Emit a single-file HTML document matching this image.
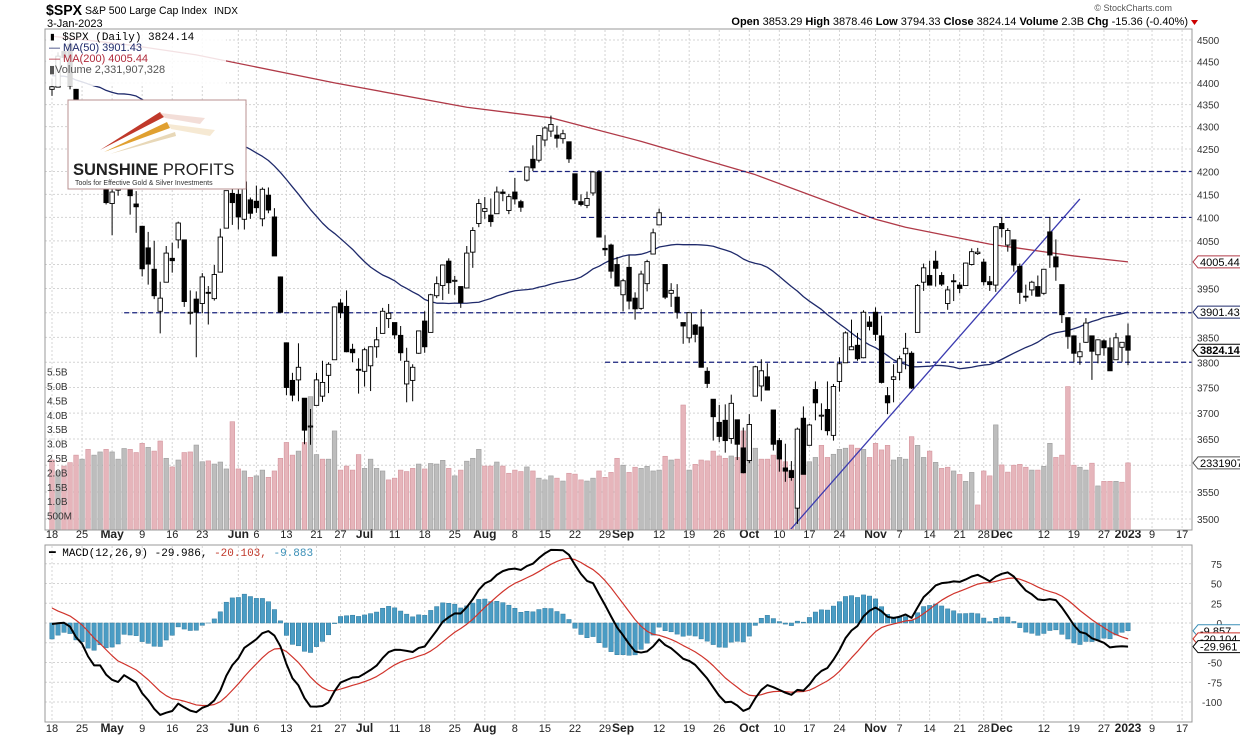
<!DOCTYPE html>
<html><head><meta charset="utf-8"><style>
body{margin:0;background:#fff;}
svg{display:block;font-family:"Liberation Sans",Arial,sans-serif;}
</style></head><body>
<svg id="chart" width="1240" height="737" viewBox="0 0 1240 737" xmlns="http://www.w3.org/2000/svg">
<rect width="1240" height="737" fill="#fff"/>
<g>
<text x="46" y="15" font-size="15" font-weight="bold" fill="#000" textLength="36" lengthAdjust="spacingAndGlyphs">$SPX</text>
<text x="85" y="14" font-size="11" fill="#000" textLength="122" lengthAdjust="spacingAndGlyphs">S&amp;P 500 Large Cap Index</text>
<text x="214" y="14" font-size="10" fill="#000">INDX</text>
<text x="47" y="27" font-size="11" fill="#000">3-Jan-2023</text>
<text x="1172" y="11" font-size="9" fill="#555" text-anchor="end">© StockCharts.com</text>
<text x="1188" y="25" font-size="11" fill="#000" text-anchor="end"><tspan font-weight="bold">Open</tspan> 3853.29 <tspan font-weight="bold">High</tspan> 3878.46 <tspan font-weight="bold">Low</tspan> 3794.33 <tspan font-weight="bold">Close</tspan> 3824.14 <tspan font-weight="bold">Volume</tspan> 2.3B <tspan font-weight="bold">Chg</tspan> -15.36 (-0.40%)</text>
<path d="M1191 20 L1198 20 L1194.5 25 Z" fill="#c00"/>
</g>
<g id="grid"></g>
<g id="vol"></g>
<g id="lines"></g>
<g id="candles"></g>
<g id="macd"></g>
<g id="axes"></g>
<rect x="45" y="29" width="1147" height="501" fill="none" stroke="#999"/>
<rect x="45" y="545" width="1147" height="177" fill="none" stroke="#999"/>
<g font-size="11">
<rect x="46" y="30" width="180" height="56" fill="#fff" opacity="0.85"/>
<text x="49" y="40" fill="#000" font-family="Liberation Mono, monospace" font-size="11">▮ $SPX (Daily) 3824.14</text>
<text x="49" y="51" fill="#1f2a6b">— MA(50) 3901.43</text>
<text x="49" y="62" fill="#b02a3a">— MA(200) 4005.44</text>
<text x="49" y="73" fill="#555">▮Volume 2,331,907,328</text>
</g>
<g>
<rect x="68" y="100" width="178" height="89" fill="#fff" stroke="#b89090" stroke-width="1"/>
<polygon points="100,150 160,112 164,117" fill="#c0392b"/>
<polygon points="104,152 167,122 170,128" fill="#e0a030"/>
<polygon points="110,154 175,132 176,136" fill="#e8d8b8"/>
<polygon points="160,113 205,118 200,124 165,118" fill="#eed0c8" opacity="0.7"/>
<polygon points="168,124 215,130 210,136 171,129" fill="#f2e0c0" opacity="0.7"/>
<text x="73" y="175" font-size="16.5" font-weight="bold" fill="#222">SUNSHINE <tspan font-weight="normal">PROFITS</tspan></text>
<text x="75" y="185" font-size="7" fill="#333">Tools for Effective Gold &amp; Silver Investments</text>
</g>
<text x="49" y="556" font-size="11" font-family="Liberation Mono, monospace"><tspan fill="#000">━ MACD(12,26,9) -29.986, </tspan><tspan fill="#c0392b">-20.103, </tspan><tspan fill="#3a8fb7">-9.883</tspan></text>
</svg>
<script>
// ---------- DATA ----------
const warmupCloses=[4546,4589,4477,4500,4484,4521,4587,4504,4418,4401,4472,4475,4380,4349,4304,4225,4288,4385,4374,4306,4387,4363,4329,4201,4171,4278,4260,4204,4173,4262,4358,4412,4463,4461,4512,4457,4520,4543,4575,4632,4602,4530,4546,4583,4525,4481,4500,4488,4413,4397,4447,4392];
const opens=[4385,4390,4473,4490,4385,4255,4278,4187,4222,4253,
4130,4159,4182,4270,4129,4081,4035,3990,3903,3963,4013,4052,4052,3900,3928,3919,3942,3929,3984,4077,4152,
4150,4096,4138,4135,4097,4148,4101,3974,3839,3764,3765,3729,3675,3715,3733,3774,3805,3920,3913,3826,3786,
3782,3793,3831,3858,3888,3880,3854,3757,3764,3818,3883,3860,3935,3956,4007,3966,3954,3951,4026,4087,
4113,4105,4108,4155,4115,4155,4134,4181,4227,4225,4270,4290,4281,4273,4266,4195,4134,4126,4153,4198,4034,4041,4000,
3937,3994,3930,3909,3960,4022,4084,4000,3940,3932,3880,3849,3875,3871,3782,3727,3682,3686,3651,3687,3633,
3609,3733,3753,3771,3706,3647,3595,3590,3520,3690,3638,3746,3696,3707,3657,3762,3799,3825,3834,3809,3881,
3901,3853,3734,3766,3780,3817,3818,3860,3963,3977,4007,3977,3919,3966,3957,3956,4000,4023,4005,3964,3957,
4087,4041,4052,3996,3934,3947,3954,3940,4069,4016,3958,3890,3853,3811,3840,3853,3815,3843,3829,3805,3830,
3853];
const highs=[4410,4471,4489,4512,4386,4300,4278,4240,4308,4269,
4169,4200,4308,4270,4157,4082,4069,4050,3964,4039,4046,4091,4052,3946,3944,3982,3955,3999,4076,4158,4169,
4167,4177,4143,4169,4165,4165,4120,3975,3839,3779,3838,3729,3708,3779,3803,3800,3913,3928,3946,3837,3808,
3829,3832,3871,3910,3918,3880,3873,3829,3796,3863,3903,3939,3975,3999,4013,3976,3954,4039,4079,4140,
4144,4141,4167,4161,4151,4186,4138,4211,4258,4281,4301,4325,4302,4293,4266,4195,4150,4156,4201,4203,4062,4044,4016,
3970,4019,3942,3987,4010,4076,4119,4000,3961,3959,3880,3900,3877,3907,3790,3727,3716,3717,3736,3687,3672,
3698,3793,3806,3798,3706,3652,3641,3608,3672,3713,3679,3762,3719,3762,3757,3810,3862,3886,3859,3905,3893,
3911,3894,3751,3796,3813,3859,3822,3959,4002,4008,4029,3984,3955,3980,3963,4004,4034,4035,4012,3976,4080,
4101,4077,4052,4002,3958,3966,3977,3991,4101,4053,3958,3890,3854,3839,3889,3853,3846,3846,3849,3859,3840,
3878];
const lows=[4370,4390,4452,4385,4268,4200,4175,4162,4188,4128,
4062,4147,4175,4106,4067,3975,3958,3928,3858,3963,3983,4034,3912,3876,3810,3899,3876,3925,3984,4077,4084,
4074,4074,4097,4110,4081,4109,4018,3900,3735,3723,3723,3640,3639,3715,3722,3739,3805,3889,3820,3800,3738,
3752,3743,3809,3858,3869,3847,3803,3721,3723,3817,3819,3860,3930,3926,3939,3937,3910,3951,3993,4079,
4097,4080,4108,4135,4107,4128,4112,4178,4201,4220,4256,4277,4253,4262,4219,4129,4124,4120,4147,4057,4018,3971,3954,
3903,3907,3886,3906,3944,4022,4083,3928,3912,3888,3837,3839,3840,3790,3749,3647,3644,3624,3641,3610,3585,
3604,3733,3723,3745,3628,3588,3569,3571,3491,3583,3638,3686,3667,3657,3647,3742,3799,3825,3803,3808,3864,
3843,3758,3698,3721,3764,3786,3747,3860,3945,3956,3954,3955,3906,3924,3940,3956,3998,4020,3956,3945,3943,
4057,4027,3985,3918,3923,3935,3933,3937,3993,3966,3879,3827,3800,3795,3839,3765,3798,3813,3783,3805,3801,
3794];
const closes=[4391,4462,4459,4393,4272,4296,4175,4183,4287,4132,
4155,4175,4300,4147,4123,3991,4001,3935,3930,4024,4008,4088,3923,3901,3901,3974,3941,3979,4058,4158,4132,
4101,4177,4109,4121,4161,4116,4018,3901,3750,3735,3790,3667,3675,3765,3760,3796,3912,3900,3821,3819,3785,
3825,3831,3845,3903,3899,3855,3819,3802,3790,3863,3831,3937,3960,3999,3962,3967,3921,4024,4072,4130,
4119,4091,4155,4152,4145,4140,4122,4210,4208,4280,4297,4305,4274,4284,4228,4138,4128,4141,4199,4058,4031,3986,3955,
3966,3924,3908,3980,4006,4067,4110,3932,3946,3901,3873,3900,3856,3790,3758,3693,3655,3647,3719,3640,3586,
3678,3791,3783,3745,3640,3612,3589,3577,3669,3583,3677,3720,3696,3666,3752,3797,3859,3831,3807,3901,3872,
3856,3760,3720,3771,3807,3828,3749,3956,3993,3957,3992,3959,3947,3965,3950,4003,4027,4026,3964,3958,4080,
4076,4072,3999,3942,3933,3963,3934,3990,4020,3995,3896,3852,3818,3821,3879,3822,3845,3829,3783,3849,3840,
3824.14];
const volumesB=[2.43,2.03,2.22,2.34,2.6,2.46,2.8,2.6,2.71,2.8,2.71,2.46,2.83,2.8,2.69,3.01,2.87,2.74,3.09,2.49,2.19,2.43,2.69,2.71,2.95,2.37,2.4,2.29,2.36,2.12,
3.76,2.12,2.05,1.83,1.88,2.08,1.83,2.05,2.49,3.04,2.6,2.74,3.04,4.63,2.62,2.46,2.46,3.44,2.08,2.22,2.08,2.62,2.14,2.46,2.14,2.05,1.74,1.80,2.08,2.03,
2.14,2.29,2.12,2.31,2.29,2.42,2.14,1.88,2.08,2.39,2.49,2.8,2.22,2.22,2.36,2.22,1.97,2.08,2.03,2.19,2.05,1.80,1.74,1.88,1.80,1.70,1.97,1.94,1.74,1.70,
1.80,2.05,1.83,2.0,2.49,2.25,2.0,2.18,2.14,2.21,2.05,2.08,2.56,2.43,2.46,4.34,2.08,2.28,2.43,2.4,2.74,2.57,2.49,2.57,2.52,3.44,2.74,2.84,2.46,2.46,2.6,
2.72,2.37,2.08,2.52,2.6,2.37,2.52,2.94,2.52,2.63,2.8,2.84,2.95,2.84,2.8,2.52,3.01,2.78,2.94,2.43,2.52,2.46,3.24,2.94,2.52,2.74,2.35,2.14,2.18,2.05,
1.93,1.69,2.0,0.87,2.05,1.88,3.65,2.26,2.01,2.25,2.28,2.18,2.08,2.08,2.21,3.01,2.52,2.6,4.98,2.25,2.18,2.08,2.32,1.53,1.69,1.69,1.69,1.66,2.33];
const ma200Idx=[0,13,24,47,69,83,98,117,137,142,156,166,170,179];
const ma200Vals=[4509,4488,4465,4400,4344,4320,4267,4193,4096,4079,4043,4025,4018,4005.44];
const priceTicks=[3500,3550,3600,3650,3700,3750,3800,3850,3900,3950,4000,4050,4100,4150,4200,4250,4300,4350,4400,4450,4500];
const volTicks=[0.5,1,1.5,2,2.5,3,3.5,4,4.5,5,5.5];
const volTickLabels=["500M","1.0B","1.5B","2.0B","2.5B","3.0B","3.5B","4.0B","4.5B","5.0B","5.5B"];
const macdTicks=[75,50,25,0,-25,-50,-75,-100];
const dateLabels=[["2022-04-18","18"],["2022-04-25","25"],["2022-05-02","May"],["2022-05-09","9"],["2022-05-16","16"],["2022-05-23","23"],["2022-06-01","Jun"],["2022-06-06","6"],["2022-06-13","13"],["2022-06-21","21"],["2022-06-27","27"],["2022-07-01","Jul"],["2022-07-11","11"],["2022-07-18","18"],["2022-07-25","25"],["2022-08-01","Aug"],["2022-08-08","8"],["2022-08-15","15"],["2022-08-22","22"],["2022-08-29","29"],["2022-09-01","Sep"],["2022-09-12","12"],["2022-09-19","19"],["2022-09-26","26"],["2022-10-03","Oct"],["2022-10-10","10"],["2022-10-17","17"],["2022-10-24","24"],["2022-11-01","Nov"],["2022-11-07","7"],["2022-11-14","14"],["2022-11-21","21"],["2022-11-28","28"],["2022-12-01","Dec"],["2022-12-12","12"],["2022-12-19","19"],["2022-12-27","27"],["2023-01-03","2023"],["2023-01-09","9"],["2023-01-17","17"]];
const holidays=["2022-05-30","2022-06-20","2022-07-04","2022-09-05","2022-11-24","2022-12-26","2023-01-02","2023-01-16"];
const hLevels=[4200,4100,3900,3800];
const hStartIdx=[76,88,12,92];
const trendIdx=[122,171];
const trendVals=[3470,4140];

// ---------- SCALES ----------
const NS="http://www.w3.org/2000/svg";
const X0=52, DX=(1128-52)/179, LEFT=45, RIGHT=1192;
const x=i=>X0+i*DX;
const yP=v=>40+1906*Math.log(4500/v);
const yV=b=>530-b*28.8;
const yM=m=>623-m*0.79;
function mk(tag,attrs,parent){const e=document.createElementNS(NS,tag);for(const k in attrs)e.setAttribute(k,attrs[k]);parent.appendChild(e);return e;}
const G=id=>document.getElementById(id);

const tradingDates=[];
{let d=new Date(Date.UTC(2022,3,18));while(tradingDates.length<190){const s=d.toISOString().slice(0,10);const wd=d.getUTCDay();if(wd!==0&&wd!==6&&!holidays.includes(s))tradingDates.push(s);d.setUTCDate(d.getUTCDate()+1);}}

// ---------- GRID ----------
const grid=G('grid');
priceTicks.forEach(v=>{const g=mk('line',{x1:LEFT,x2:RIGHT,y1:yP(v),y2:yP(v),stroke:'#d4d4d4','stroke-dasharray':'2,2'},grid);

});
macdTicks.forEach(v=>{const g=mk('line',{x1:LEFT,x2:RIGHT,y1:yM(v),y2:yM(v),stroke:'#d4d4d4','stroke-dasharray':'2,2'},grid);

});
const axes=G('axes');
dateLabels.forEach(([d,lab])=>{const i=tradingDates.indexOf(d);const xx=x(i);
const g=mk('line',{x1:xx,x2:xx,y1:30,y2:529,stroke:'#d4d4d4','stroke-dasharray':'2,2'},grid);


const g2=mk('line',{x1:xx,x2:xx,y1:546,y2:721,stroke:'#d4d4d4','stroke-dasharray':'2,2'},grid);


const bold=/[A-Za-z]|2023/.test(lab);
[539,733].forEach(yy=>{const t=mk('text',{x:xx,y:yy-1,'font-size':bold?12:11,'font-weight':bold?'bold':'normal','text-anchor':'middle',fill:'#222'},axes);t.textContent=lab;

});});
priceTicks.forEach(v=>{const t=mk('text',{x:1197,y:yP(v)+4,'font-size':10,fill:'#333'},axes);t.textContent=v;

});
volTicks.forEach((b,k)=>{const t=mk('text',{x:47,y:yV(b)+4,'font-size':10,fill:'#333'},axes);t.textContent=volTickLabels[k];

});
macdTicks.forEach(v=>{const t=mk('text',{x:1222,y:yM(v)+4,'font-size':10,fill:'#333','text-anchor':'end'},axes);t.textContent=v;

});

// ---------- VOLUME ----------
const vol=G('vol');
volumesB.forEach((b,i)=>{const prev=i===0?warmupCloses[warmupCloses.length-1]:closes[i-1];const down=closes[i]<prev;
const r=mk('rect',{x:x(i)-2.3,y:yV(b),width:4.6,height:530-yV(b),fill:down?'#e6b5bb':'#bdbdbd',stroke:down?'#d4959d':'#9c9c9c','stroke-width':0.6},vol);

});

// ---------- LINES ----------
const lines=G('lines');
const all=warmupCloses.concat(closes);const W=warmupCloses.length;
let ma50=[];for(let i=0;i<closes.length;i++){const j=W+i;let s=0;for(let k=j-49;k<=j;k++)s+=all[k];ma50.push(s/50);}
const pl=(pts,col,w,name,parent)=>{const p=mk('polyline',{points:pts.map(p=>p.join(',')).join(' '),fill:'none',stroke:col,'stroke-width':w,'stroke-linejoin':'round'},parent);return p;};
const cp=mk('clipPath',{id:'pc'},lines);mk('rect',{x:LEFT,y:30,width:RIGHT-LEFT,height:499},cp);
const lg=mk('g',{'clip-path':'url(#pc)'},lines);
pl(ma200Idx.map((i,k)=>[x(i),yP(ma200Vals[k])]),'#b03a48',1.3,'ma200-line',lg);
pl(ma50.map((v,i)=>[x(i),yP(v)]),'#1f2a6b',1.3,'ma50-line',lg);
hLevels.forEach((v,k)=>{const l=mk('line',{x1:x(hStartIdx[k]),x2:RIGHT,y1:yP(v),y2:yP(v),stroke:'#1a237e','stroke-width':1.2,'stroke-dasharray':'5,3'},lg);

});
const tl=mk('line',{x1:x(trendIdx[0]),y1:yP(trendVals[0]),x2:x(trendIdx[1]),y2:yP(trendVals[1]),stroke:'#3b3bb0','stroke-width':1.3},lg);



// ---------- CANDLES ----------
const cg=G('candles');
closes.forEach((c,i)=>{const o=opens[i];const xx=x(i);
const w=mk('line',{x1:xx,x2:xx,y1:yP(highs[i]),y2:yP(lows[i]),stroke:'#000','stroke-width':1},cg);


const top=yP(Math.max(o,c)),bot=yP(Math.min(o,c));
const b=mk('rect',{x:xx-2.2,y:top,width:4.4,height:Math.max(1,bot-top),fill:c>=o?'#fff':'#000',stroke:'#000','stroke-width':0.9},cg);

});

// ---------- MACD ----------
const mg=G('macd');
const ema=(arr,n)=>{const k=2/(n+1);let e=arr[0];return arr.map(v=>(e=v*k+e*(1-k)));};
const e12=ema(all,12),e26=ema(all,26);const macdAll=all.map((v,i)=>e12[i]-e26[i]);const sigAll=ema(macdAll,9);
const macd=macdAll.slice(W),sig=sigAll.slice(W);
macd.forEach((m,i)=>{const h=m-sig[i];const y0=yM(0),y1=yM(h);
const r=mk('rect',{x:x(i)-2.2,y:Math.min(y0,y1),width:4.4,height:Math.abs(y1-y0),fill:'#4a9cc4',stroke:'#2f7a9e','stroke-width':0.5},mg);

});
pl(sig.map((v,i)=>[x(i),yM(v)]),'#d0342c',1.2,'macd-signal-line',mg);
pl(macd.map((v,i)=>[x(i),yM(v)]),'#000',2,'macd-line',mg);

// ---------- VALUE TAGS ----------
function tag(yy,txt,col,bold,name){const g=mk('g',{},axes);


const w=txt.length*6.2+6;mk('path',{d:`M1193 ${yy} L1198 ${yy-6} L${1198+w} ${yy-6} L${1198+w} ${yy+6} L1198 ${yy+6} Z`,fill:'#fff',stroke:col},g);
const t=mk('text',{x:1200,y:yy+4,'font-size':11,fill:'#000','font-weight':bold?'bold':'normal'},g);t.textContent=txt;}
tag(yP(ma200Vals[ma200Vals.length-1]),'4005.44','#b03a48',false,'ma200-value-tag');
tag(yP(ma50[ma50.length-1]),'3901.43','#1f2a6b',false,'ma50-value-tag');
tag(yP(closes[closes.length-1]),'3824.14','#000',true,'price-value-tag');
tag(yV(volumesB[volumesB.length-1]),'2331907','#555',false,'volume-value-tag');
const hl=macd.length-1;
tag(yM(macd[hl]-sig[hl]),(macd[hl]-sig[hl]).toFixed(3),'#3a8fb7',false,'histogram-value-tag');
tag(yM(sig[hl]),sig[hl].toFixed(3),'#d0342c',false,'signal-value-tag');
tag(yM(macd[hl]),macd[hl].toFixed(3),'#000',false,'macd-value-tag');
</script>
</body></html>
